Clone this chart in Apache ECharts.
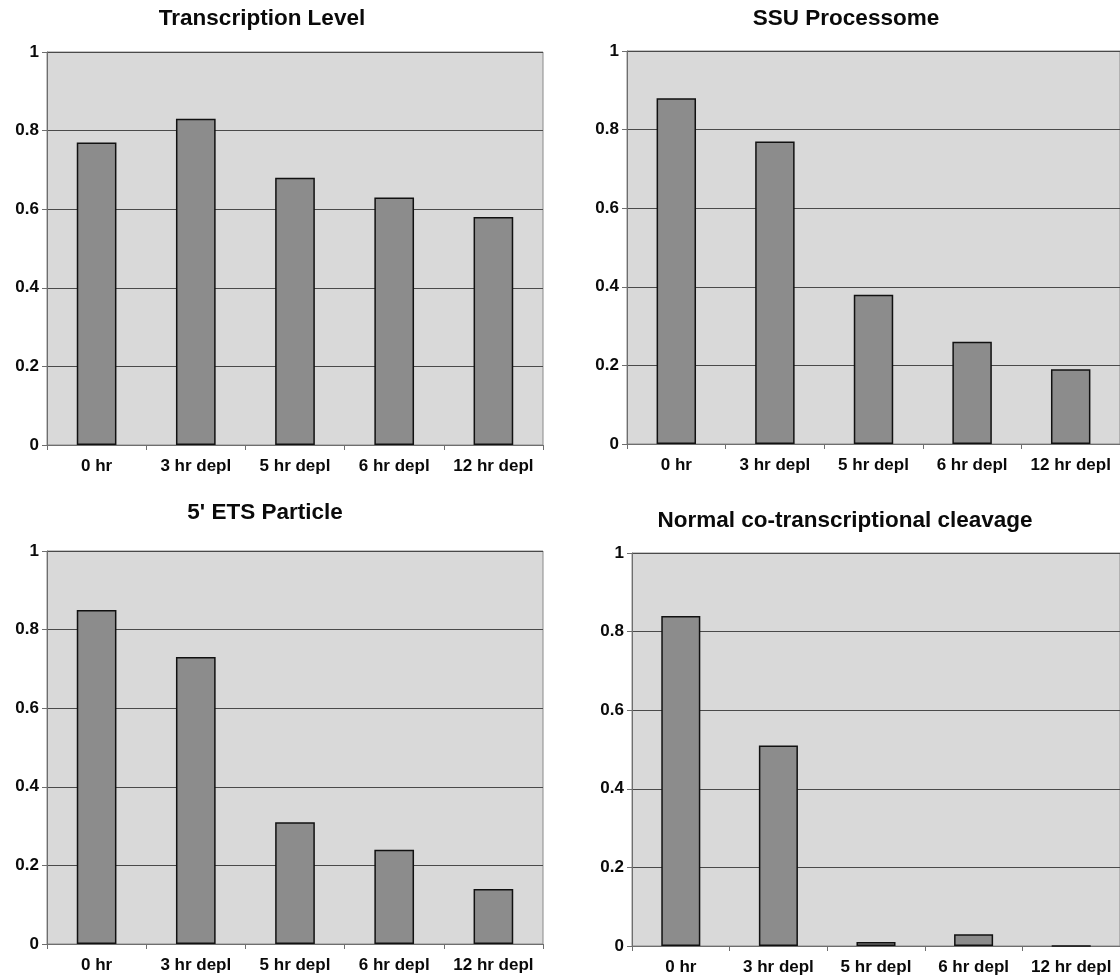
<!DOCTYPE html>
<html>
<head>
<meta charset="utf-8">
<script src="https://cdn.jsdelivr.net/npm/echarts@6/dist/echarts.min.js"></script>
<style>
html,body{margin:0;padding:0;background:#fff;}
#chart{width:1120px;height:977px;}
</style>
</head>
<body>
<div id="chart"></div>
<script>
const categories = ['0 hr', '3 hr depl', '5 hr depl', '6 hr depl', '12 hr depl'];
const titles = ['Transcription Level', 'SSU Processome', "5' ETS Particle", 'Normal co-transcriptional cleavage'];
const transcriptionLevel = [0.77, 0.83, 0.68, 0.63, 0.58];
const ssuProcessome = [0.88, 0.77, 0.38, 0.26, 0.19];
const etsParticle = [0.85, 0.73, 0.31, 0.24, 0.14];
const cotranscriptionalCleavage = [0.84, 0.51, 0.01, 0.03, 0];
const yTicks = [0, 0.2, 0.4, 0.6, 0.8, 1];

const seriesData = [transcriptionLevel, ssuProcessome, etsParticle, cotranscriptionalCleavage];

// layout of the four panels (pixels)
const panels = [
  {left: 47,  top: 52,  width: 496, height: 393, titleX: 262, titleY: 7},
  {left: 627, top: 51,  width: 498, height: 393, titleX: 846, titleY: 7},
  {left: 47,  top: 551, width: 496, height: 393, titleX: 265, titleY: 501},
  {left: 632, top: 553, width: 493, height: 393, titleX: 845, titleY: 509}
];

const fontFamily = '"Liberation Sans", Arial, sans-serif';

const option = {
  backgroundColor: '#ffffff',
  animation: false,
  title: panels.map((p, i) => ({
    text: titles[i],
    left: p.titleX,
    top: p.titleY,
    textAlign: 'center',
    padding: 0,
    textStyle: {fontFamily, fontSize: 22.5, fontWeight: 'bold', color: '#0a0a0a'}
  })),
  grid: panels.map(p => ({
    left: p.left, top: p.top, width: p.width, height: p.height,
    show: true, backgroundColor: '#d9d9d9', borderColor: '#8a8a8a', borderWidth: 1,
    containLabel: false
  })),
  xAxis: panels.map((p, i) => ({
    type: 'category',
    gridIndex: i,
    data: categories,
    boundaryGap: true,
    axisLine: {show: true, lineStyle: {color: '#6e6e6e', width: 1}},
    axisTick: {show: true, length: 5, inside: false, lineStyle: {color: '#6e6e6e'}},
    axisLabel: {margin: 13, fontFamily, fontSize: 17, fontWeight: 'bold', color: '#0a0a0a', interval: 0},
    splitLine: {show: false}
  })),
  yAxis: panels.map((p, i) => ({
    type: 'value',
    gridIndex: i,
    min: yTicks[0],
    max: yTicks[yTicks.length - 1],
    interval: yTicks[1] - yTicks[0],
    axisLine: {show: true, lineStyle: {color: '#6e6e6e', width: 1}},
    axisTick: {show: true, length: 5, inside: false, lineStyle: {color: '#6e6e6e'}},
    axisLabel: {margin: 8, fontFamily, fontSize: 17, fontWeight: 'bold', color: '#0a0a0a'},
    splitLine: {show: true, lineStyle: {color: '#4a4a4a', width: 1}}
  })),
  series: seriesData.map((d, i) => ({
    type: 'bar',
    xAxisIndex: i,
    yAxisIndex: i,
    data: d,
    barWidth: '40%',
    itemStyle: {color: '#8c8c8c', borderColor: '#111', borderWidth: 1.5}
  }))
};

const chart = echarts.init(document.getElementById('chart'), null, {renderer: 'canvas'});
chart.setOption(option);
</script>
</body>
</html>
